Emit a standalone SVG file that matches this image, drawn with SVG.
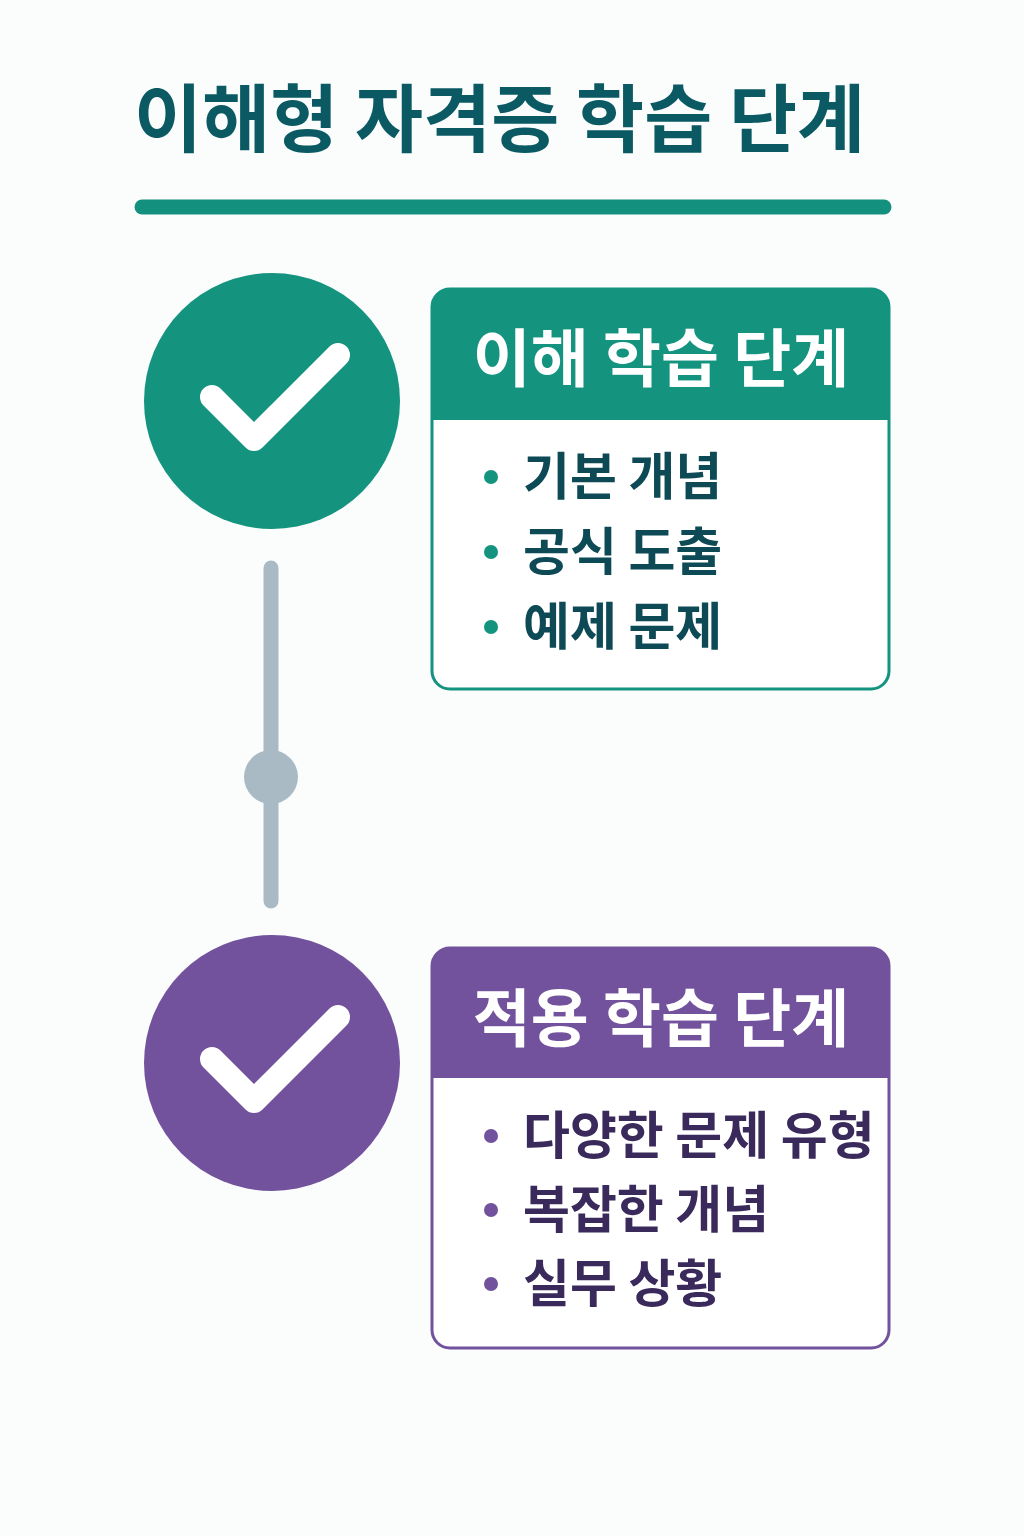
<svg xmlns="http://www.w3.org/2000/svg" width="1024" height="1536" viewBox="0 0 1024 1536">
<style>
text{font-family:"Noto Sans CJK KR","Noto Sans",sans-serif;font-weight:700}
.title{font-size:74px;fill:#0b5a63}
.head{font-size:63px;fill:#fff}
.item{font-size:51px}
.check{fill:none;stroke:#fff;stroke-width:24;stroke-linecap:round;stroke-linejoin:round}
</style>
<rect width="1024" height="1536" fill="#fbfdfd"/>
<g id="title">
<text class="title" x="134" y="146">이해형 자격증 학습 단계</text>
<line x1="142" y1="207" x2="884" y2="207" stroke="#14907e" stroke-width="15" stroke-linecap="round"/>
</g>
<g id="connectors">
<line x1="271" y1="568" x2="271" y2="901" stroke="#a9bac4" stroke-width="15" stroke-linecap="round"/>
<circle cx="271" cy="777" r="27" fill="#a9bac4"/>
</g>
<g id="step1-icon">
<circle cx="272" cy="401" r="128" fill="#14937f"/>
<polyline class="check" points="212,397 254,439 338,355"/>
</g>
<g id="step1-box">
<rect x="432" y="289" width="457" height="400" rx="18" fill="#fff" stroke="#14937f" stroke-width="3"/>
<path d="M432,420 V307 a18,18 0 0 1 18,-18 H871 a18,18 0 0 1 18,18 V420 Z" fill="#14937f"/>
<text class="head" x="661" y="381" text-anchor="middle">이해 학습 단계</text>
<g fill="#14937f"><circle cx="491" cy="477" r="7"/><circle cx="491" cy="552" r="7"/><circle cx="491" cy="627" r="7"/></g>
<text class="item" x="523" y="495" fill="#0d4a55">기본 개념</text>
<text class="item" x="523" y="570" fill="#0d4a55">공식 도출</text>
<text class="item" x="523" y="645" fill="#0d4a55">예제 문제</text>
</g>
<g id="step2-icon">
<circle cx="272" cy="1063" r="128" fill="#72529c"/>
<polyline class="check" points="212,1059 254,1101 338,1017"/>
</g>
<g id="step2-box">
<rect x="432" y="948" width="457" height="400" rx="18" fill="#fff" stroke="#72529c" stroke-width="3"/>
<path d="M432,1078 V966 a18,18 0 0 1 18,-18 H871 a18,18 0 0 1 18,18 V1078 Z" fill="#72529c"/>
<text class="head" x="661" y="1041" text-anchor="middle">적용 학습 단계</text>
<g fill="#72529c"><circle cx="491" cy="1136" r="7"/><circle cx="491" cy="1210" r="7"/><circle cx="491" cy="1284" r="7"/></g>
<text class="item" x="523" y="1154" fill="#3a2a5c">다양한 문제 유형</text>
<text class="item" x="523" y="1228" fill="#3a2a5c">복잡한 개념</text>
<text class="item" x="523" y="1302" fill="#3a2a5c">실무 상황</text>
</g>
</svg>
